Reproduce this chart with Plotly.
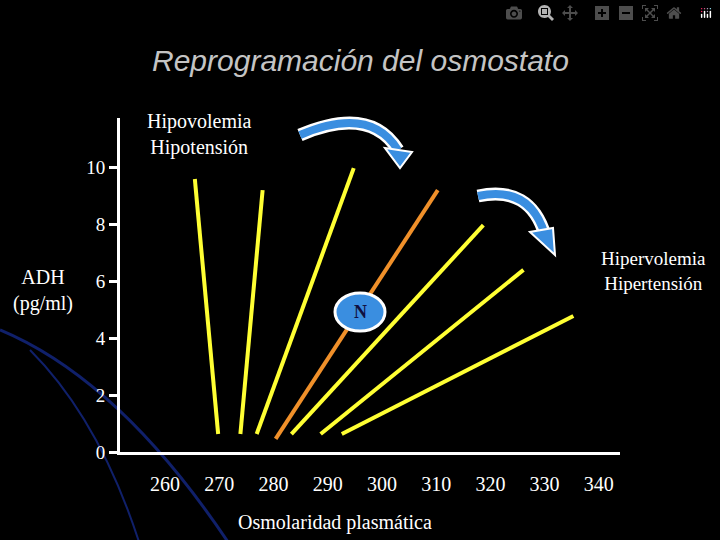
import plotly.graph_objects as go

x_start = [265.5, 278.0, 294.8, 310.3, 318.7, 326.1, 335.3]
y_start = [9.58, 9.19, 9.96, 9.19, 7.96, 6.39, 4.77]
x_end = [269.8, 273.9, 276.9, 280.4, 283.3, 288.7, 292.6]
y_end = [0.63, 0.63, 0.63, 0.46, 0.63, 0.63, 0.63]
colors = ["#ffff33", "#ffff33", "#ffff33", "#f0902a", "#ffff33", "#ffff33", "#ffff33"]
x_ticks = [260, 270, 280, 290, 300, 310, 320, 330, 340]
y_ticks = [0, 2, 4, 6, 8, 10]

W, H = 720, 540
L, R, T, B = 120, 100, 118, 88
def px(x, y):
    return (x - L) / (W - L - R), 1 - (y - T) / (H - T - B)

fig = go.Figure()
for i in range(len(x_start)):
    fig.add_trace(go.Scatter(x=[x_start[i], x_end[i]], y=[y_start[i], y_end[i]], mode="lines",
                             line=dict(color=colors[i], width=4), showlegend=False, hoverinfo="skip"))

def ppath(pts):
    out = []
    for cmd, x, y in pts:
        a, b = px(x, y)
        out.append(f"{cmd} {a:.4f} {b:.4f}")
    return " ".join(out)
shapes = []
for pts, w in [([("M", 0, 330), ("Q", 120, 380), ("", 230, 545)], 3), ([("M", 30, 350), ("Q", 100, 420), ("", 140, 545)], 2)]:
    shapes.append(dict(type="path", xref="paper", yref="paper", path=ppath(pts), line=dict(color="#10206a", width=w), layer="below"))
for pts, head in [([("M", 300, 135), ("Q", 370, 105), ("", 398, 150)], [(385, 148), (412, 152), (400, 168)]),
                  ([("M", 478, 196), ("Q", 530, 185), ("", 545, 235)], [(530, 232), (555, 255), (553, 228)])]:
    shapes.append(dict(type="path", xref="paper", yref="paper", path=ppath(pts), line=dict(color="white", width=13)))
    shapes.append(dict(type="path", xref="paper", yref="paper", path=ppath(pts), line=dict(color="#3a8ee0", width=8)))
    hp = ppath([("M", *head[0]), ("L", *head[1]), ("L", *head[2])]) + " Z"
    shapes.append(dict(type="path", xref="paper", yref="paper", path=hp, fillcolor="#3a8ee0", line=dict(color="white", width=2)))
a0, b0 = px(335, 293); a1, b1 = px(385, 331)
shapes.append(dict(type="circle", xref="paper", yref="paper", x0=a0, x1=a1, y0=b1, y1=b0,
                   fillcolor="#3a8ee0", line=dict(color="white", width=3)))

ann = []
def text(t, x, y, size=20, xa="center", color="white", fam="Liberation Serif", it=False):
    a, b = px(x, y)
    s = f"<i>{t}</i>" if it else t
    ann.append(dict(text=s, x=a, y=b, xref="paper", yref="paper", showarrow=False, xanchor=xa, yanchor="middle",
                    font=dict(size=size, color=color, family=fam)))
text("Reprogramación del osmostato", 360, 60, 30, color="#c4c4c4", fam="Liberation Sans", it=True)
text("Hipovolemia<br>Hipotensión", 145, 134, 20, xa="left")
text("Hipervolemia<br>Hipertensión", 708, 271, 19, xa="right")
text("ADH<br>(pg/ml)", 43, 290, 20)
text("Osmolaridad plasmática", 335, 522, 20)
text("<b>N</b>", 360, 312, 18, color="#101040")

fig.update_layout(width=W, height=H, margin=dict(l=L, r=R, t=T, b=B),
                  paper_bgcolor="black", plot_bgcolor="black", shapes=shapes, annotations=ann,
                  xaxis=dict(range=[251.7, 343.9], tickvals=x_ticks, showgrid=False, zeroline=False,
                             showline=True, linecolor="white", linewidth=3, ticks="", ticklabelstandoff=12,
                             tickfont=dict(size=20, color="white", family="Liberation Serif")),
                  yaxis=dict(range=[0, 11.72], tickvals=y_ticks, showgrid=False, zeroline=False,
                             showline=True, linecolor="white", linewidth=3, ticks="outside", ticklen=8,
                             tickwidth=3, tickcolor="white",
                             tickfont=dict(size=19, color="white", family="Liberation Serif")))
fig.write_html("out.html", post_script="document.body.style.margin='0';document.body.style.background='black';")
